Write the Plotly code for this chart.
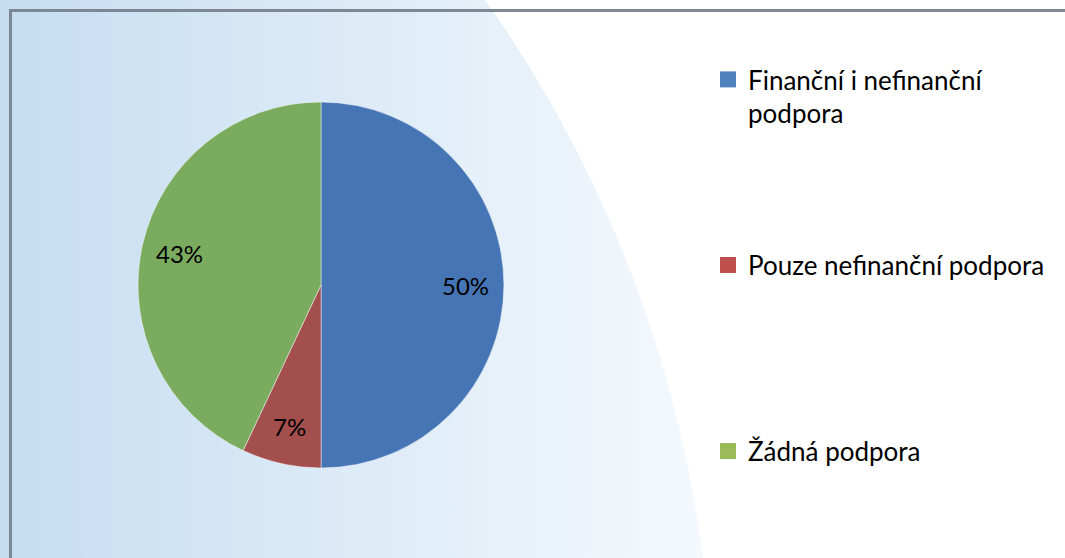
import base64
import math
import plotly.graph_objects as go

# ---- data ----
categories = ["Finanční i nefinanční podpora", "Pouze nefinanční podpora", "Žádná podpora"]
legend_text = ["Finanční i nefinanční<br>podpora", "Pouze nefinanční podpora", "Žádná podpora"]
values = [50, 7, 43]

# ---- styles ----
pie_colors = ["#4675B5", "#A34F4E", "#7AAB5F"]
legend_colors = ["#4F81BD", "#C0504D", "#9BBB59"]
FONT = "Lato"
W, H = 1065, 558
CX, CY, R = 321, 285, 183
LABEL_R = 0.79

fig = go.Figure()

fig.add_trace(go.Pie(
    labels=categories,
    values=values,
    sort=False,
    direction="clockwise",
    rotation=0,
    marker=dict(colors=pie_colors, line=dict(color="rgba(255,255,255,0.45)", width=1)),
    textinfo="none",
    hoverinfo="label+percent",
    showlegend=False,
    domain=dict(x=[(CX - R) / W, (CX + R) / W], y=[1 - (CY + R) / H, 1 - (CY - R) / H]),
))

# data labels placed at the slice mid-angles
total = sum(values)
cum = 0
annotations = []
for v in values:
    mid = (cum + v / 2) / total * 2 * math.pi
    cum += v
    px = CX + LABEL_R * R * math.sin(mid)
    py = CY - LABEL_R * R * math.cos(mid)
    annotations.append(dict(
        x=px / W, y=1 - py / H, xref="paper", yref="paper",
        text=f"{round(v / total * 100)}%", showarrow=False,
        font=dict(family=FONT, size=24, color="#000000"),
        xanchor="center", yanchor="middle",
    ))

# legend entries (one legend per entry so they can be spaced like the original)
legend_names = ["legend", "legend2", "legend3"]
for name, txt, col in zip(legend_names, legend_text, legend_colors):
    fig.add_trace(go.Scatter(
        x=[None], y=[None], mode="markers", name=txt,
        marker=dict(symbol="square", size=16, color=col),
        legend=name, hoverinfo="skip",
    ))

legend_common = dict(
    bgcolor="rgba(0,0,0,0)", borderwidth=0,
    font=dict(family=FONT, size=26, color="#000000"),
    xanchor="left", itemclick=False, itemdoubleclick=False,
)

svg = f"""<svg xmlns='http://www.w3.org/2000/svg' width='{W}' height='{H}' viewBox='0 0 {W} {H}'>
<defs><linearGradient id='g' gradientUnits='userSpaceOnUse' x1='0' y1='0' x2='860' y2='0'>
<stop offset='0' stop-color='#C5DDF1'/><stop offset='1' stop-color='#FFFFFF'/></linearGradient></defs>
<rect width='{W}' height='{H}' fill='#FFFFFF'/>
<circle cx='-522' cy='715' r='1235' fill='url(#g)'/>
</svg>"""
src = "data:image/svg+xml;base64," + base64.b64encode(svg.encode()).decode()

fig.update_layout(
    width=W, height=H,
    margin=dict(l=0, r=0, t=0, b=0),
    paper_bgcolor="#FFFFFF",
    plot_bgcolor="rgba(0,0,0,0)",
    xaxis=dict(visible=False),
    yaxis=dict(visible=False),
    annotations=annotations,
    legend=dict(**legend_common, x=708 / W, y=1 - 56 / H, yanchor="top", valign="top"),
    legend2=dict(**legend_common, x=708 / W, y=1 - 265 / H, yanchor="middle"),
    legend3=dict(**legend_common, x=708 / W, y=1 - 451 / H, yanchor="middle"),
    images=[dict(source=src, xref="paper", yref="paper", x=0, y=1, sizex=1, sizey=1,
                 xanchor="left", yanchor="top", sizing="stretch", layer="below")],
    shapes=[dict(type="rect", xref="paper", yref="paper",
                 x0=10.5 / W, y0=1 - 10.5 / H, x1=1.1, y1=-0.1,
                 line=dict(color="#7D8894", width=3), fillcolor="rgba(0,0,0,0)")],
)

fig.write_html("out.html", config={"displayModeBar": False},
               post_script="document.body.style.margin='0px';")
